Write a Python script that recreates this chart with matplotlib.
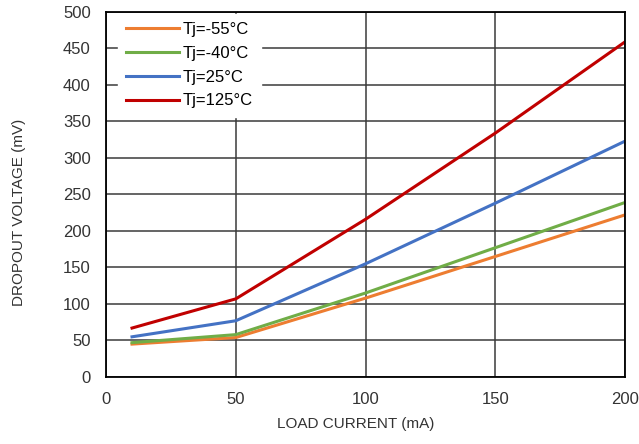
import matplotlib.pyplot as plt
import numpy as np

plt.rcParams['font.family'] = ['Liberation Sans', 'DejaVu Sans']

load_current = [10, 50, 100, 150, 200]
series_labels = ['Tj=-55°C', 'Tj=-40°C', 'Tj=25°C', 'Tj=125°C']
dropout_m55 = [45, 54, 108, 165, 222]
dropout_m40 = [47, 58, 115, 177, 239]
dropout_25 = [55, 77, 155, 238, 323]
dropout_125 = [67, 107, 216, 334, 459]
colors = ['#ED7D31', '#70AD47', '#4472C4', '#C00000']

fig = plt.figure(figsize=(6.39, 4.44), dpi=100)
ax = fig.add_axes([0.166, 0.151, 0.812, 0.822])

for vals, lab, c in zip([dropout_m55, dropout_m40, dropout_25, dropout_125], series_labels, colors):
    ax.plot(load_current, vals, color=c, lw=2.2, label=lab)

ax.set_xlim(0, 200)
ax.set_ylim(0, 500)
ax.set_xticks(np.arange(0, 201, 50))
ax.set_yticks(np.arange(0, 501, 50))
ax.grid(True, color='#3a3a3a', lw=1.1)
ax.set_axisbelow(True)
ax.tick_params(length=0, labelsize=12, pad=11, colors='#333333')
for s in ax.spines.values():
    s.set_color('black')
    s.set_linewidth(1.3)

# axis titles placed like the original
fig.text(356 / 639, 1 - 424 / 444, 'LOAD CURRENT (mA)', fontsize=11, color='#333333',
         ha='center', va='center')
fig.text(19 / 639, 1 - 212 / 444, 'DROPOUT VOLTAGE (mV)', fontsize=11, color='#333333',
         ha='center', va='center', rotation=90)

leg = ax.legend(loc='upper left', bbox_to_anchor=(0.019, 1.0), fontsize=12, frameon=True,
                framealpha=1, edgecolor='white', fancybox=False, handlelength=3.2,
                labelspacing=0.53, borderaxespad=0.1, borderpad=0.5, handletextpad=0.2)

fig.savefig('out.png', dpi=100)
